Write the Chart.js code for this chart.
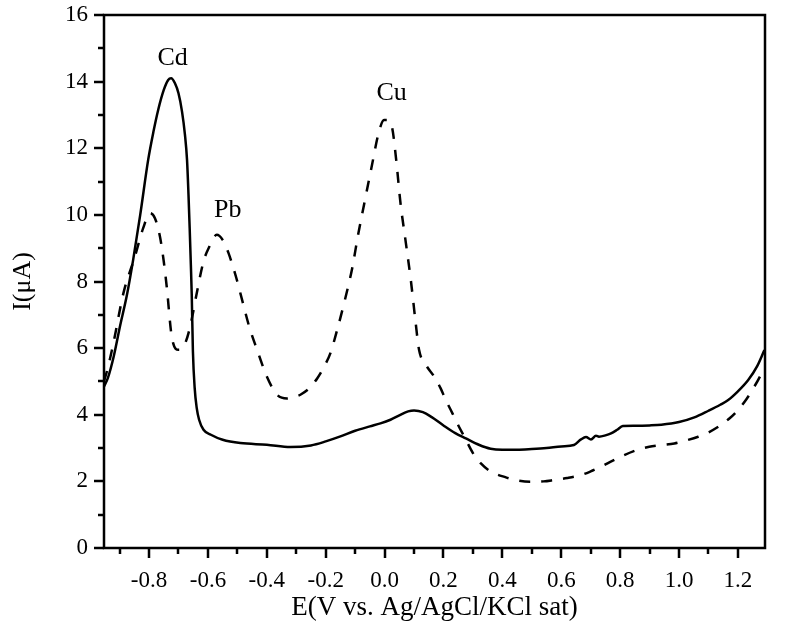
<!DOCTYPE html>
<html>
<head>
<meta charset="utf-8">
<script src="https://cdn.jsdelivr.net/npm/chart.js@4/dist/chart.umd.min.js"></script>
<style>
  html, body { margin: 0; padding: 0; background: #fff; }
  #wrap { width: 786px; height: 638px; }
</style>
</head>
<body>
<div id="wrap"><canvas id="chart" width="786" height="638"></canvas></div>
<script>
// solid curve (Cd peak)
const solidE = [-0.953, -0.94, -0.92, -0.899, -0.875, -0.854, -0.83, -0.803, -0.785, -0.769,
  -0.75, -0.735, -0.725, -0.712, -0.7, -0.688, -0.678, -0.671, -0.666, -0.662,
  -0.658, -0.655, -0.651, -0.645, -0.638, -0.63, -0.615, -0.59, -0.55, -0.49,
  -0.4, -0.32, -0.25, -0.2, -0.15, -0.1, -0.05, -0.014, 0.02, 0.05,
  0.08, 0.1, 0.13, 0.16, 0.2, 0.24, 0.276, 0.32, 0.36, 0.4,
  0.45, 0.5, 0.55, 0.6, 0.643, 0.667, 0.684, 0.701, 0.718, 0.728,
  0.75, 0.769, 0.79, 0.809, 0.85, 0.9, 0.94, 1.0, 1.052, 1.1,
  1.14, 1.167, 1.2, 1.235, 1.265, 1.29];
const solidI = [4.85, 5.1, 5.75, 6.64, 7.6, 8.65, 10.0, 11.65, 12.5, 13.15,
  13.75, 14.05, 14.1, 13.95, 13.65, 13.1, 12.4, 11.65, 10.6, 9.6,
  8.5, 7.6, 5.9, 4.8, 4.2, 3.85, 3.55, 3.4, 3.25, 3.15,
  3.1, 3.03, 3.08, 3.2, 3.35, 3.52, 3.65, 3.74, 3.85, 3.98,
  4.1, 4.13, 4.08, 3.93, 3.68, 3.45, 3.29, 3.1, 2.98, 2.95,
  2.95, 2.97, 3.0, 3.05, 3.09, 3.26, 3.33, 3.26, 3.37, 3.34,
  3.38, 3.44, 3.55, 3.66, 3.67, 3.68, 3.7, 3.78, 3.92, 4.12,
  4.3, 4.44, 4.7, 5.04, 5.45, 5.94];

// dashed curve (Cd, Pb, Cu peaks)
const dashedE = [-0.953, -0.939, -0.921, -0.887, -0.848, -0.82, -0.797, -0.78, -0.763, -0.75,
  -0.74, -0.723, -0.7, -0.688, -0.677, -0.666, -0.652, -0.638, -0.615, -0.595,
  -0.57, -0.55, -0.53, -0.505, -0.484, -0.46, -0.433, -0.4, -0.365, -0.331,
  -0.3, -0.286, -0.255, -0.229, -0.205, -0.184, -0.161, -0.139, -0.11, -0.09,
  -0.07, -0.045, -0.019, -0.002, 0.01, 0.026, 0.04, 0.054, 0.07, 0.089,
  0.105, 0.117, 0.14, 0.168, 0.19, 0.208, 0.23, 0.247, 0.276, 0.3,
  0.327, 0.36, 0.412, 0.45, 0.497, 0.54, 0.575, 0.62, 0.667, 0.7,
  0.735, 0.775, 0.814, 0.86, 0.899, 0.94, 0.984, 1.02, 1.065, 1.1,
  1.137, 1.17, 1.2, 1.23, 1.252, 1.275, 1.29];
const dashedI = [5.0, 5.44, 6.15, 7.65, 8.75, 9.6, 10.05, 9.9, 9.35, 8.6,
  7.85, 6.35, 5.95, 5.98, 6.15, 6.45, 7.0, 7.65, 8.6, 9.05,
  9.4, 9.25, 8.85, 8.15, 7.45, 6.65, 5.95, 5.15, 4.6, 4.49,
  4.55, 4.6, 4.8, 5.09, 5.45, 5.85, 6.55, 7.3, 8.4, 9.4,
  10.3, 11.4, 12.5, 12.85, 12.85, 12.6, 11.6, 10.35, 9.3, 8.05,
  6.8, 5.95, 5.5, 5.15, 4.8, 4.44, 4.05, 3.74, 3.25, 2.85,
  2.54, 2.3, 2.12, 2.03, 1.99, 2.0, 2.04, 2.1, 2.19, 2.3,
  2.44, 2.62, 2.79, 2.95, 3.04, 3.09, 3.14, 3.22, 3.34, 3.47,
  3.66, 3.88, 4.14, 4.48, 4.79, 5.15, 5.44];

// peak annotations
const peakNames = ['Cd', 'Pb', 'Cu'];
const peakE = [-0.72, -0.533, 0.024];
const peakI = [14.5, 9.94, 13.45];

const serif = '"Liberation Serif", "Times New Roman", serif';

const toPoints = (xs, ys) => xs.map((v, i) => ({ x: v, y: ys[i] }));

const isMajor = (v, step) => Math.abs(Math.round(v / step) * step - v) < 1e-6;

const frameAndTicks = {
  id: 'frameAndTicks',
  afterDraw(chart) {
    const { ctx, chartArea: a, scales: { x, y } } = chart;
    ctx.save();
    ctx.strokeStyle = '#000';
    ctx.lineWidth = 2.5;
    ctx.strokeRect(a.left, a.top, a.right - a.left, a.bottom - a.top);
    ctx.beginPath();
    x.ticks.forEach(t => {
      const px = Math.round(x.getPixelForValue(t.value));
      const len = isMajor(t.value, 0.2) ? 10 : 6;
      ctx.moveTo(px, a.bottom);
      ctx.lineTo(px, a.bottom + len);
    });
    y.ticks.forEach(t => {
      const py = Math.round(y.getPixelForValue(t.value));
      const len = isMajor(t.value, 2) ? 10 : 6;
      ctx.moveTo(a.left, py);
      ctx.lineTo(a.left - len, py);
    });
    ctx.stroke();

    ctx.fillStyle = '#000';
    ctx.font = '26px ' + serif;
    ctx.textAlign = 'center';
    ctx.textBaseline = 'alphabetic';
    peakNames.forEach((name, i) => {
      ctx.fillText(name, x.getPixelForValue(peakE[i]), y.getPixelForValue(peakI[i]));
    });
    ctx.restore();
  }
};

new Chart(document.getElementById('chart').getContext('2d'), {
  type: 'line',
  data: {
    datasets: [
      {
        label: 'solid',
        data: toPoints(solidE, solidI),
        borderColor: '#000',
        borderWidth: 2.5,
        pointRadius: 0,
        cubicInterpolationMode: 'monotone'
      },
      {
        label: 'dashed',
        data: toPoints(dashedE, dashedI),
        borderColor: '#000',
        borderWidth: 2.5,
        borderDash: [11, 11],
        pointRadius: 0,
        cubicInterpolationMode: 'monotone'
      }
    ]
  },
  options: {
    responsive: false,
    animation: false,
    layout: { padding: { top: 15, right: 21, left: 0, bottom: 0 } },
    plugins: {
      legend: { display: false },
      tooltip: { enabled: false }
    },
    scales: {
      x: {
        type: 'linear',
        min: -0.953,
        max: 1.292,
        afterFit: s => { s.height = 90; s.paddingLeft = 0; s.paddingRight = 0; },
        grid: { display: false, drawTicks: false },
        border: { display: false },
        ticks: {
          stepSize: 0.1,
          includeBounds: false,
          autoSkip: false,
          maxRotation: 0,
          padding: 19,
          color: '#000',
          font: { family: serif, size: 23 },
          callback: v => isMajor(v, 0.2) ? v.toFixed(1) : ''
        },
        title: {
          display: true,
          text: 'E(V vs. Ag/AgCl/KCl sat)',
          color: '#000',
          font: { family: serif, size: 27 },
          padding: { top: 0, bottom: 14 }
        }
      },
      y: {
        min: 0,
        max: 16,
        afterFit: s => { s.width = 104; s.paddingTop = 0; s.paddingBottom = 0; },
        grid: { display: false, drawTicks: false },
        border: { display: false },
        ticks: {
          stepSize: 1,
          autoSkip: false,
          padding: 16,
          color: '#000',
          font: { family: serif, size: 23 },
          callback: v => isMajor(v, 2) ? String(v) : ''
        },
        title: {
          display: true,
          text: 'I(μA)',
          color: '#000',
          font: { family: serif, size: 26 },
          padding: { top: 8, bottom: 0 }
        }
      }
    }
  },
  plugins: [frameAndTicks]
});
</script>
</body>
</html>
